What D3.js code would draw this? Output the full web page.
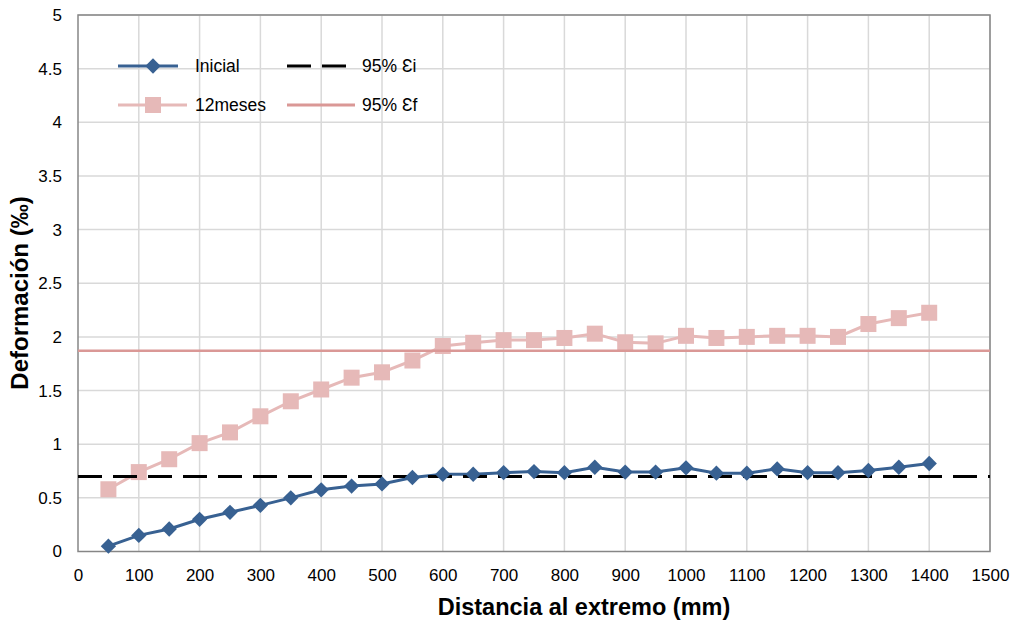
<!DOCTYPE html>
<html><head><meta charset="utf-8">
<script src="https://cdn.jsdelivr.net/npm/d3@7"></script>
<style>body{margin:0;background:#fff}svg{display:block;font-family:"Liberation Sans",Arial,sans-serif}</style>
</head><body><svg id="c" width="1015" height="627"></svg>
<script>
const distances = [50,100,150,200,250,300,350,400,450,500,550,600,650,700,750,800,850,900,950,1000,1050,1100,1150,1200,1250,1300,1350,1400];
const inicial = [0.05,0.15,0.21,0.30,0.365,0.43,0.50,0.575,0.61,0.63,0.69,0.72,0.72,0.735,0.745,0.735,0.785,0.74,0.74,0.78,0.73,0.73,0.77,0.735,0.735,0.755,0.785,0.82];
const meses12 = [0.58,0.74,0.86,1.01,1.11,1.26,1.40,1.51,1.62,1.67,1.78,1.915,1.945,1.97,1.97,1.99,2.03,1.95,1.94,2.01,1.99,2.0,2.01,2.01,2.0,2.12,2.175,2.225];
const p95i = 0.70;
const p95f = 1.87;
const xTicks = d3.range(0,1501,100);
const yTicks = [0,0.5,1,1.5,2,2.5,3,3.5,4,4.5,5];
const legendLabels = ["Inicial","95% Ɛi","12meses","95% Ɛf"];

const svg = d3.select("#c");
const L=78,R=990,T=15,B=551.5;
const x = d3.scaleLinear().domain([0,1500]).range([L,R]);
const y = d3.scaleLinear().domain([0,5]).range([B,T]);
const blue="#386192", pinkM="#E6B9B8", pinkL="#DA9896";

// grid
svg.append("g").selectAll("line").data(xTicks.slice(1)).join("line")
 .attr("x1",d=>x(d)).attr("x2",d=>x(d)).attr("y1",T).attr("y2",B)
 .attr("stroke","#d9d9d9").attr("stroke-width",1.5);
svg.append("g").selectAll("line").data(yTicks.slice(1)).join("line")
 .attr("x1",L).attr("x2",R).attr("y1",d=>y(d)).attr("y2",d=>y(d))
 .attr("stroke","#d9d9d9").attr("stroke-width",1.5);
// border
svg.append("rect").attr("x",L).attr("y",T).attr("width",R-L).attr("height",B-T)
 .attr("fill","none").attr("stroke","#868686").attr("stroke-width",1.5);

// axes labels
const xa = d3.axisBottom(x).tickValues(xTicks).tickSize(0).tickPadding(17).tickFormat(d3.format("d"));
svg.append("g").attr("transform",`translate(0,${B})`).call(xa)
 .call(g=>{g.select(".domain").remove();g.selectAll("text").attr("font-size",17).attr("fill","#000").attr("font-family","Liberation Sans, Arial");});
const ya = d3.axisLeft(y).tickValues(yTicks).tickSize(0).tickPadding(16).tickFormat(d3.format("~g"));
svg.append("g").attr("transform",`translate(${L},0)`).call(ya)
 .call(g=>{g.select(".domain").remove();g.selectAll("text").attr("font-size",17).attr("fill","#000").attr("font-family","Liberation Sans, Arial");});

// titles
svg.append("text").attr("x",584).attr("y",615).attr("text-anchor","middle")
 .attr("font-size",23.5).attr("font-weight","bold").text("Distancia al extremo (mm)");
svg.append("text").attr("transform",`translate(28,293) rotate(-90)`).attr("text-anchor","middle")
 .attr("font-size",24).attr("font-weight","bold").text("Deformación (‰)");

const line = d3.line().x((d,i)=>x(distances[i])).y(d=>y(d));
// 12meses
svg.append("path").datum(meses12).attr("d",line).attr("fill","none").attr("stroke",pinkM).attr("stroke-width",3);
svg.append("g").selectAll("rect").data(meses12).join("rect")
 .attr("x",(d,i)=>x(distances[i])-8).attr("y",d=>y(d)-8).attr("width",16).attr("height",16).attr("fill",pinkM);
// 95f
svg.append("line").attr("x1",L).attr("x2",R).attr("y1",y(p95f)).attr("y2",y(p95f)).attr("stroke",pinkL).attr("stroke-width",2.5);
// inicial
svg.append("path").datum(inicial).attr("d",line).attr("fill","none").attr("stroke",blue).attr("stroke-width",3);
// 95i dashed
svg.append("line").attr("x1",L).attr("x2",R).attr("y1",y(p95i)).attr("y2",y(p95i)).attr("stroke","#000").attr("stroke-width",3).attr("stroke-dasharray","24,11");
const diamond = d3.symbol().type(d3.symbolDiamond2).size(150);
svg.append("g").selectAll("path").data(inicial).join("path")
 .attr("transform",(d,i)=>`translate(${x(distances[i])},${y(d)})`).attr("d",diamond).attr("fill",blue);

// legend
const lg = svg.append("g").attr("font-size",17.5);
const rows=[66,105];
lg.append("line").attr("x1",118).attr("x2",178).attr("y1",rows[0]).attr("y2",rows[0]).attr("stroke",blue).attr("stroke-width",3);
lg.append("path").attr("transform",`translate(153,${rows[0]})`).attr("d",diamond).attr("fill",blue);
lg.append("text").attr("x",195).attr("y",rows[0]+6).text(legendLabels[0]);
lg.append("line").attr("x1",287).attr("x2",347).attr("y1",rows[0]).attr("y2",rows[0]).attr("stroke","#000").attr("stroke-width",3).attr("stroke-dasharray","24,11");
lg.append("text").attr("x",362).attr("y",rows[0]+6).text(legendLabels[1]);
lg.append("line").attr("x1",118).attr("x2",187).attr("y1",rows[1]).attr("y2",rows[1]).attr("stroke",pinkM).attr("stroke-width",3);
lg.append("rect").attr("x",145).attr("y",rows[1]-8).attr("width",16).attr("height",16).attr("fill",pinkM);
lg.append("text").attr("x",195).attr("y",rows[1]+6).text(legendLabels[2]);
lg.append("line").attr("x1",287).attr("x2",355).attr("y1",rows[1]).attr("y2",rows[1]).attr("stroke",pinkL).attr("stroke-width",3);
lg.append("text").attr("x",362).attr("y",rows[1]+6).text(legendLabels[3]);
</script></body></html>
